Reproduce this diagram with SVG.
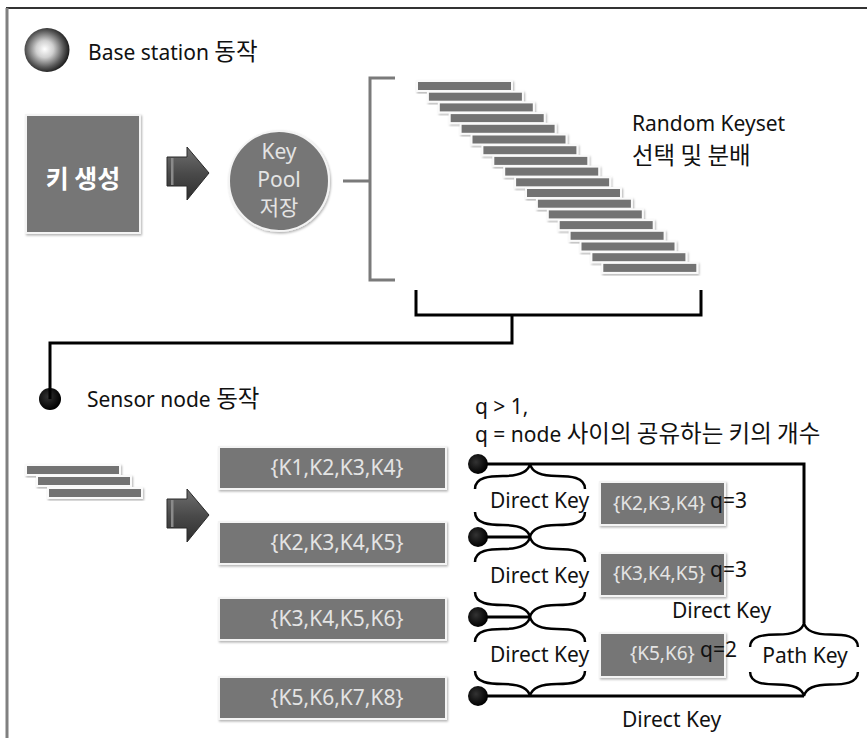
<svg xmlns="http://www.w3.org/2000/svg" width="867" height="738" viewBox="0 0 867 738">
<defs>
<style>
.t{font-family:"Noto Sans","Noto Sans CJK KR",sans-serif;font-size:21px;fill:#111}
.w{font-family:"Noto Sans","Noto Sans CJK KR",sans-serif;font-size:21px;fill:#e4e4e4}
.s{font-family:"Noto Sans","Noto Sans CJK KR",sans-serif;font-size:19px;fill:#e4e4e4}
.k{font-family:"Noto Sans CJK KR","Noto Sans",sans-serif;font-size:23.5px}
.box{fill:#767676;stroke:#f4f4f4;stroke-width:2;filter:url(#sh)}
.bar{fill:#737373;stroke:#fafafa;stroke-width:2;filter:url(#sh)}
.gl{fill:none;stroke:#7a7a7a;stroke-width:3}
.bl{fill:none;stroke:#000;stroke-width:3}
.br{fill:none;stroke:#000;stroke-width:2.5}
.dot{fill:url(#dg)}
</style>
<filter id="sh" x="-10%" y="-30%" width="120%" height="160%">
<feDropShadow dx="1" dy="1.5" stdDeviation="1" flood-color="#000" flood-opacity="0.3"/>
</filter>
<radialGradient id="sph" cx="0.45" cy="0.48" r="0.55">
<stop offset="0" stop-color="#ffffff"/>
<stop offset="0.35" stop-color="#d0d0d0"/>
<stop offset="0.75" stop-color="#5a5a5a"/>
<stop offset="1" stop-color="#1a1a1a"/>
</radialGradient>
<radialGradient id="dg" cx="0.4" cy="0.4" r="0.6">
<stop offset="0" stop-color="#333"/>
<stop offset="1" stop-color="#000"/>
</radialGradient>
<linearGradient id="ag" x1="0" y1="0" x2="0" y2="1">
<stop offset="0" stop-color="#707070"/>
<stop offset="0.5" stop-color="#4a4a4a"/>
<stop offset="1" stop-color="#2e2e2e"/>
</linearGradient>
<g id="arrow">
<polygon points="167,157 187,157 187,147 209,173 187,200 187,186 167,186" fill="url(#ag)" stroke="#2a2a2a" stroke-width="1"/>
<rect x="171" y="158" width="2.5" height="27" fill="#8a8a8a"/>
</g>
<path id="bup" d="M-55,25 C-55,13 -40,12 -27,12 C-12,12 -2,9 0,0 C2,9 12,12 27,12 C40,12 55,13 55,25"/>
<path id="bdn" d="M-55,-25 C-55,-13 -40,-12 -27,-12 C-12,-12 -2,-9 0,0 C2,-9 12,-12 27,-12 C40,-12 55,-13 55,-25"/>
</defs>
<rect width="867" height="738" fill="#fff"/>
<g id="frame">
<line x1="6" y1="8" x2="867" y2="8" stroke="#333" stroke-width="2"/>
<line x1="7" y1="8" x2="7" y2="738" stroke="#808080" stroke-width="3"/>
</g>

<g id="base-station-title">
<ellipse cx="47" cy="50" rx="22.5" ry="22" fill="url(#sph)"/>
<text class="t" x="88" y="60">Base station <tspan class="k">동작</tspan></text>
</g>

<g id="keygen">
<rect class="box" x="26" y="115" width="114" height="118"/>
<text x="83" y="188" text-anchor="middle" font-family="'Noto Sans CJK KR','Noto Sans',sans-serif" font-size="25" font-weight="bold" fill="#fff">키 생성</text>
</g>

<g id="keypool">
<circle cx="279" cy="181" r="50" fill="#767676" stroke="#f4f4f4" stroke-width="2" filter="url(#sh)"/>
<text class="w" x="279" y="159" text-anchor="middle">Key</text>
<text class="w" x="279" y="187" text-anchor="middle">Pool</text>
<text class="w" x="279" y="215" text-anchor="middle" font-family="'Noto Sans CJK KR',sans-serif" font-size="25">저장</text>
</g>

<g id="keysets">
<rect class="bar" x="417" y="81" width="95" height="10"/>
<rect class="bar" x="427.9" y="91.7" width="95" height="10"/>
<rect class="bar" x="438.8" y="102.4" width="95" height="10"/>
<rect class="bar" x="449.7" y="113.1" width="95" height="10"/>
<rect class="bar" x="460.6" y="123.8" width="95" height="10"/>
<rect class="bar" x="471.5" y="134.5" width="95" height="10"/>
<rect class="bar" x="482.4" y="145.2" width="95" height="10"/>
<rect class="bar" x="493.3" y="155.9" width="95" height="10"/>
<rect class="bar" x="504.2" y="166.6" width="95" height="10"/>
<rect class="bar" x="515.1" y="177.3" width="95" height="10"/>
<rect class="bar" x="526" y="188" width="95" height="10"/>
<rect class="bar" x="536.9" y="198.7" width="95" height="10"/>
<rect class="bar" x="547.8" y="209.4" width="95" height="10"/>
<rect class="bar" x="558.7" y="220.1" width="95" height="10"/>
<rect class="bar" x="569.6" y="230.8" width="95" height="10"/>
<rect class="bar" x="580.5" y="241.5" width="95" height="10"/>
<rect class="bar" x="591.4" y="252.2" width="95" height="10"/>
<rect class="bar" x="602.3" y="262.9" width="95" height="10"/>
</g>

<g id="random-keyset-label">
<text class="t" x="632" y="131">Random Keyset</text>
<text class="t k" x="632" y="164" font-size="23">선택 및 분배</text>
</g>

<g id="sensor-title">
<circle class="dot" cx="50" cy="399" r="11"/>
<text class="t" x="87" y="407">Sensor node <tspan class="k">동작</tspan></text>
</g>

<g id="small-keysets">
<rect class="bar" x="26" y="465" width="94" height="10"/>
<rect class="bar" x="37" y="476" width="94" height="10"/>
<rect class="bar" x="48" y="488" width="94" height="10"/>
</g>

<g id="node1">
<rect class="box" x="219" y="447" width="227" height="42"/>
<text class="w" x="337" y="475" text-anchor="middle">{K1,K2,K3,K4}</text>
</g>
<g id="node2">
<rect class="box" x="219" y="522" width="227" height="42"/>
<text class="w" x="337" y="550" text-anchor="middle">{K2,K3,K4,K5}</text>
</g>
<g id="node3">
<rect class="box" x="219" y="598" width="227" height="42"/>
<text class="w" x="337" y="626" text-anchor="middle">{K3,K4,K5,K6}</text>
</g>
<g id="node4">
<rect class="box" x="219" y="677" width="227" height="42"/>
<text class="w" x="337" y="705" text-anchor="middle">{K5,K6,K7,K8}</text>
</g>

<g id="shared12">
<rect class="box" x="600" y="482" width="125" height="43"/>
<text class="s" x="613" y="510">{K2,K3,K4}</text>
<text class="t" x="710" y="508" font-size="20">q=3</text>
</g>
<g id="shared23">
<rect class="box" x="600" y="553" width="125" height="43"/>
<text class="s" x="613" y="580">{K3,K4,K5}</text>
<text class="t" x="710" y="577" font-size="20">q=3</text>
</g>
<g id="shared34">
<rect class="box" x="600" y="633" width="125" height="44"/>
<text class="s" x="630" y="660">{K5,K6}</text>
<text class="t" x="700" y="657" font-size="20">q=2</text>
</g>

<g id="q-note">
<text class="t" x="475" y="414">q &gt; 1,</text>
<text class="t" x="475" y="442">q = node <tspan class="k">사이의 공유하는 키의 개수</tspan></text>
</g>

<g id="connectors">
<path class="gl" d="M343,181 H370 M395,78 H370 V280 H395"/>
<path class="bl" d="M416,290 V315 H701 V290 M512,315 V343 H50 V399"/>
<path class="bl" d="M478,464 H804 V623 M478,696 H804"/>
<path class="bl" d="M478,537 H530 M478,617 H530"/>
<g class="br">
<use href="#bup" x="530" y="464"/>
<use href="#bdn" x="530" y="537"/>
<use href="#bup" x="530" y="537"/>
<use href="#bdn" x="530" y="617"/>
<use href="#bup" x="530" y="617"/>
<use href="#bdn" x="530" y="696"/>
<use href="#bup" x="804" y="623" transform="translate(804,623) scale(0.98,0.96) translate(-804,-623)"/>
<use href="#bdn" x="804" y="696" transform="translate(804,696) scale(0.98,0.96) translate(-804,-696)"/>
</g>
<circle class="dot" cx="478" cy="464" r="10"/>
<circle class="dot" cx="478" cy="537" r="10"/>
<circle class="dot" cx="478" cy="617" r="10"/>
<circle class="dot" cx="478" cy="696" r="10"/>
<use href="#arrow"/>
<use href="#arrow" y="342"/>
</g>

<g id="key-labels">
<text class="t" x="490" y="508">Direct Key</text>
<text class="t" x="490" y="583">Direct Key</text>
<text class="t" x="490" y="662">Direct Key</text>
<text class="t" x="672" y="618">Direct Key</text>
<text class="t" x="622" y="727">Direct Key</text>
<text class="t" x="805" y="663" text-anchor="middle">Path Key</text>
</g>
</svg>
